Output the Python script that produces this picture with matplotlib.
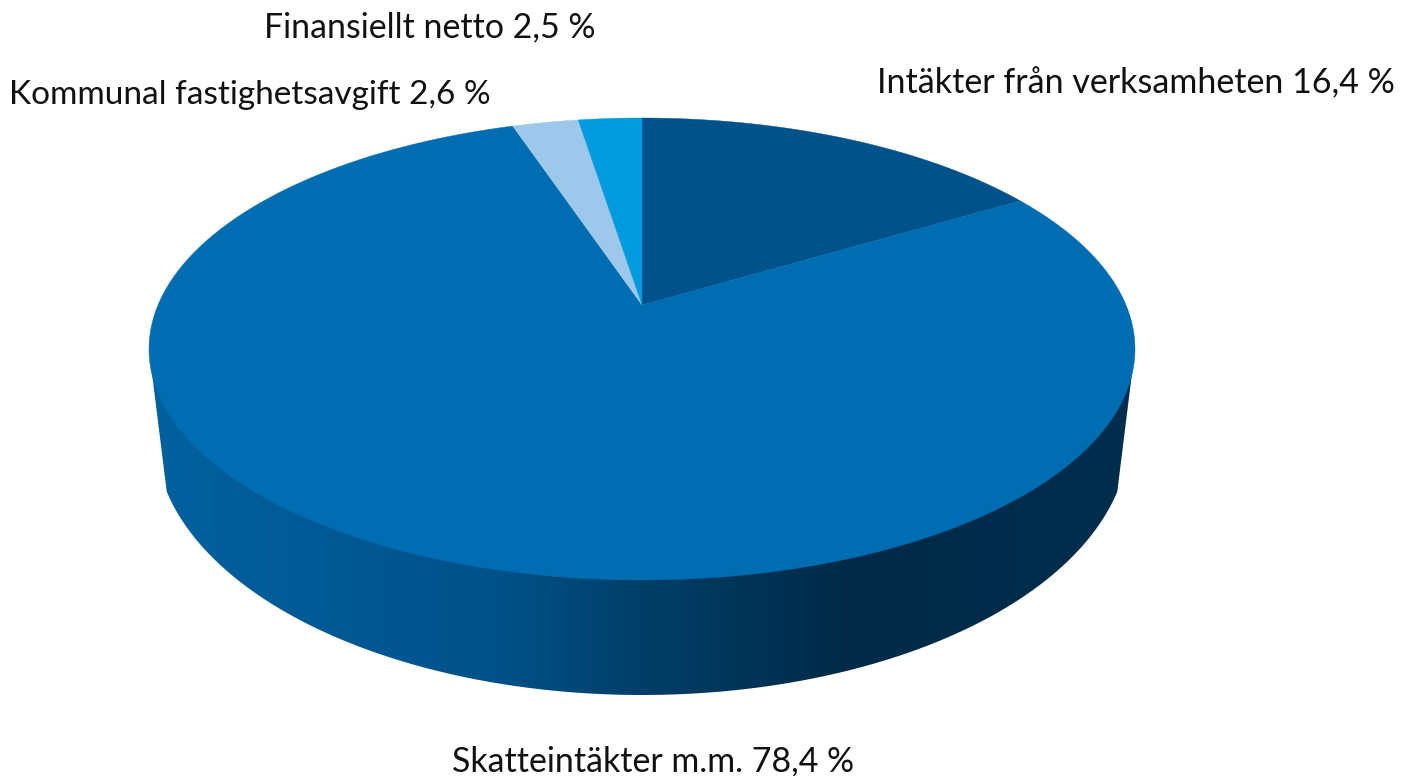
"""
3D-looking pie chart, income shares
"""
import numpy as np
import matplotlib.pyplot as plt
from matplotlib.colors import LinearSegmentedColormap
from matplotlib.patches import PathPatch
from matplotlib.path import Path

labels = [
    "Intäkter från verksamheten 16,4 %",
    "Skatteintäkter m.m. 78,4 %",
    "Kommunal fastighetsavgift 2,6 %",
    "Finansiellt netto 2,5 %",
]
values = [16.4, 78.4, 2.6, 2.5]
colors = ["#00528A", "#006DB3", "#9DC8EB", "#009ADE"]

side_positions = [0.0, 0.35, 0.50, 0.71, 0.88, 1.0]
side_colors = ["#00619F", "#00528A", "#003F68", "#002A47", "#002C4B", "#002E4D"]

# layout in pixels
CX, CY = 642, 349
RX, RY = 493, 231
APEX_SHIFT = 44
BOTTOM_CY, BOTTOM_RX, BOTTOM_RY = 435, 487, 260
SIDE_CUT = 0.22

plt.rcParams["font.family"] = ["Lato", "DejaVu Sans"]

fig = plt.figure(figsize=(14.1, 7.76), dpi=100)
ax = fig.add_axes([0, 0, 1, 1])
ax.set_xlim(0, 1410)
ax.set_ylim(776, 0)
ax.axis("off")


def project(angle):
    # circle -> ellipse with perspective, angle clockwise from 12 o'clock
    k = APEX_SHIFT / RY
    u, v = np.sin(angle), np.cos(angle)
    w = 1 + k * v
    x = CX + RX * np.sqrt(1 - k ** 2) * u / w
    y = CY - (RY * v + APEX_SHIFT) / w
    return x, y


# side of the cylinder with horizontal gradient
t = np.linspace(np.pi - SIDE_CUT, SIDE_CUT, 200)
side_x = np.concatenate([
    [CX - RX],
    CX + BOTTOM_RX * np.cos(t),
    [CX + RX],
])
side_y = np.concatenate([
    [CY],
    BOTTOM_CY + BOTTOM_RY * np.sin(t),
    [CY],
])
side_path = Path(np.column_stack([side_x, side_y]))
clip = PathPatch(side_path, transform=ax.transData, facecolor="none", edgecolor="none")
ax.add_patch(clip)

cmap = LinearSegmentedColormap.from_list("side", list(zip(side_positions, side_colors)))
gradient = np.linspace(0, 1, 512).reshape(1, -1)
img = ax.imshow(
    gradient,
    cmap=cmap,
    extent=[CX - RX, CX + RX, BOTTOM_CY + BOTTOM_RY, CY],
    aspect="auto",
    zorder=1,
)
img.set_clip_path(clip)
ax.set_xlim(0, 1410)
ax.set_ylim(776, 0)

# top face
start = 0.0
apex_x, apex_y = CX, CY - APEX_SHIFT
for value, color in zip(values, colors):
    end = start + value / sum(values) * 2 * np.pi
    angles = np.linspace(start, end, 300)
    x, y = project(angles)
    ax.fill(
        np.concatenate([[apex_x], x]),
        np.concatenate([[apex_y], y]),
        facecolor=color,
        edgecolor=color,
        linewidth=0.3,
        zorder=2,
    )
    start = end

# labels
ax.text(1395, 93, labels[0], fontsize=24.5, ha="right", va="baseline", color="#111111")
ax.text(653, 771, labels[1], fontsize=24.4, ha="center", va="baseline", color="#111111")
ax.text(491, 104, labels[2], fontsize=24, ha="right", va="baseline", color="#111111")
ax.text(596, 37, labels[3], fontsize=24.4, ha="right", va="baseline", color="#111111")

fig.savefig("out.png", dpi=100)
